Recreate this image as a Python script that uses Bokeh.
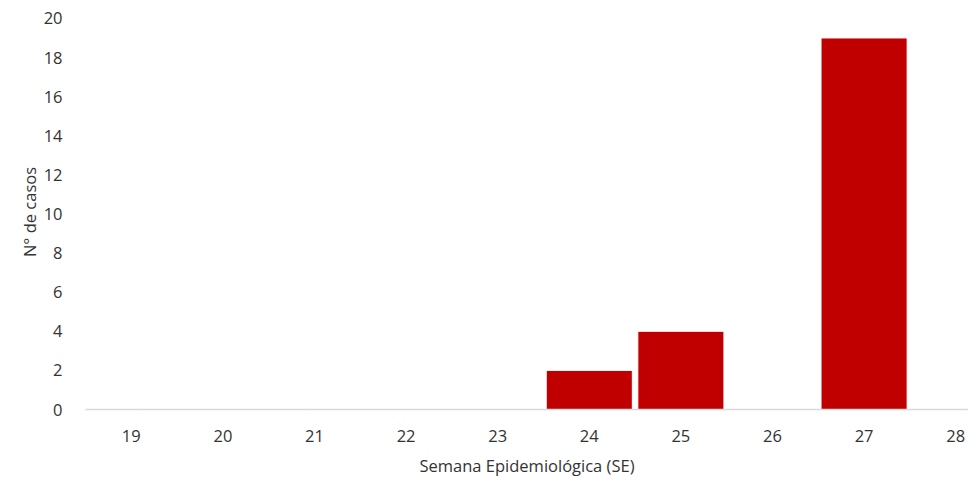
from bokeh.plotting import figure
from bokeh.models import Range1d, FixedTicker, ColumnDataSource
from bokeh.embed import file_html
from bokeh.resources import INLINE

weeks = ["19", "20", "21", "22", "23", "24", "25", "26", "27", "28"]
cases = [0, 0, 0, 0, 0, 2, 4, 0, 19, 0]
y_ticks = [0, 2, 4, 6, 8, 10, 12, 14, 16, 18, 20]

x = [int(w) for w in weeks]
src = ColumnDataSource(dict(x=x, top=cases))

FONT = "Open Sans"
TXT = "#333333"

p = figure(width=968, height=479, output_backend="svg", toolbar_location=None,
           x_range=Range1d(18.5, 28.14), y_range=Range1d(0, 20.2),
           min_border_left=85, min_border_right=0, min_border_top=14, min_border_bottom=0)
p.outline_line_color = None
p.xgrid.grid_line_color = None
p.ygrid.grid_line_color = None
p.background_fill_color = "white"

p.vbar(x="x", top="top", width=0.94, bottom=0, source=src,
       fill_color="#C00000", line_color="white", line_width=1)

p.xaxis.ticker = FixedTicker(ticks=x)
p.xaxis.major_label_overrides = {int(w): w for w in weeks}
p.xaxis.axis_line_color = "#D9D9D9"
p.xaxis.axis_line_width = 1.5
p.xaxis.major_tick_line_color = None
p.xaxis.minor_tick_line_color = None
p.xaxis.major_label_standoff = 14
p.xaxis.major_label_text_font = FONT
p.xaxis.major_label_text_font_size = "16.5px"
p.xaxis.major_label_text_color = TXT
p.xaxis.axis_label = "Semana Epidemiológica (SE)"
p.xaxis.axis_label_text_font = FONT
p.xaxis.axis_label_text_font_size = "16.5px"
p.xaxis.axis_label_text_font_style = "normal"
p.xaxis.axis_label_text_color = TXT
p.xaxis.axis_label_standoff = 9

p.yaxis.ticker = FixedTicker(ticks=y_ticks)
p.yaxis.axis_line_color = None
p.yaxis.major_tick_line_color = None
p.yaxis.minor_tick_line_color = None
p.yaxis.major_label_standoff = 17
p.yaxis.major_label_text_font = FONT
p.yaxis.major_label_text_font_size = "16.5px"
p.yaxis.major_label_text_color = TXT
p.yaxis.axis_label = "N° de casos"
p.yaxis.axis_label_text_font = FONT
p.yaxis.axis_label_text_font_size = "16.5px"
p.yaxis.axis_label_text_font_style = "normal"
p.yaxis.axis_label_text_color = TXT
p.yaxis.axis_label_standoff = 0

open("out.html", "w").write(file_html(p, INLINE))
